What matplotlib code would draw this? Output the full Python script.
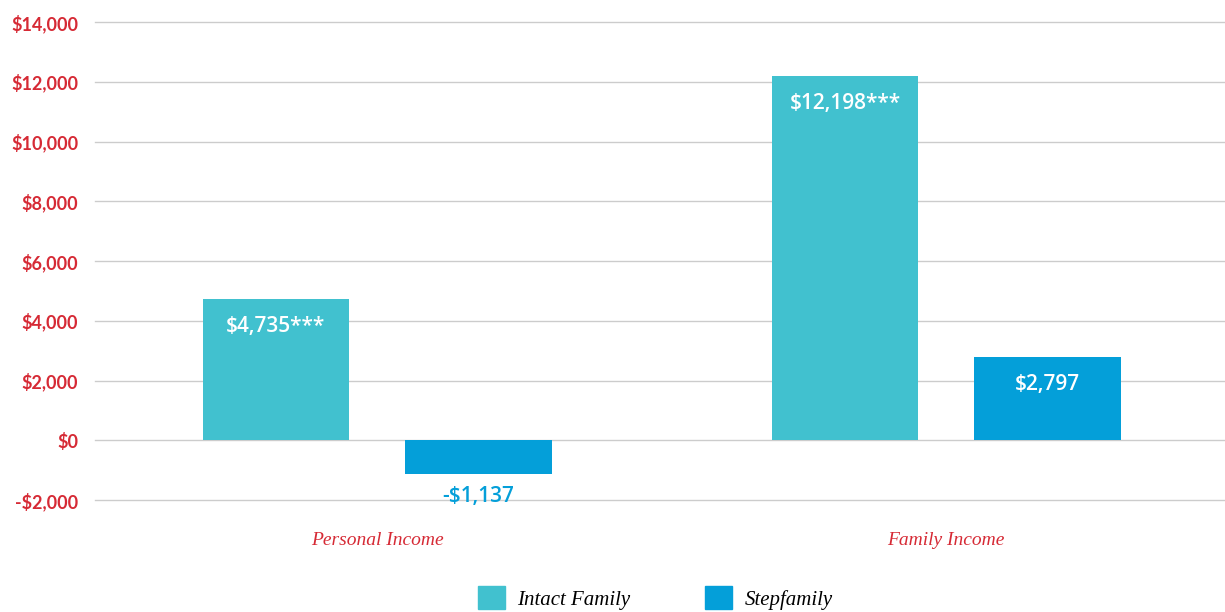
import matplotlib.pyplot as plt
import numpy as np

categories = ['Personal Income', 'Family Income']
series = ['Intact Family', 'Stepfamily']
intact = [4735, 12198]
step = [-1137, 2797]
intact_labels = ['$4,735***', '$12,198***']
step_labels = ['-$1,137', '$2,797']
yticks = [-2000, 0, 2000, 4000, 6000, 8000, 10000, 12000, 14000]

c_intact = '#41c1cf'
c_step = '#049fd9'
red = '#d62a35'

fig = plt.figure(figsize=(12.25, 6.12), dpi=100)
ax = fig.add_axes([95 / 1225, 112 / 612, 1130 / 1225, 478 / 612])

x = np.arange(len(categories))
w = 0.257
off = 0.178
b1 = ax.bar(x - off, intact, w, color=c_intact, zorder=3)
b2 = ax.bar(x + off, step, w, color=c_step, zorder=3)

ax.set_ylim(-2000, 14000)
ax.set_xlim(-0.496, 1.49)
ax.set_yticks(yticks)
ax.set_yticklabels([('-$' if v < 0 else '$') + format(abs(v), ',') for v in yticks])
ax.yaxis.grid(True, color='#cccccc', lw=1, zorder=0)
for gl in ax.get_ygridlines():
    gl.set_clip_on(False)
ax.set_xticks([])
for s in ax.spines.values():
    s.set_visible(False)
ax.tick_params(axis='y', length=0, pad=12, labelcolor=red)
for t in ax.get_yticklabels():
    t.set_fontfamily('Lato')
    t.set_fontweight('bold')
    t.set_fontsize(13)

# value labels
for bar, lab in zip(b1, intact_labels):
    ax.annotate(lab, (bar.get_x() + bar.get_width() / 2, bar.get_height()),
                xytext=(0, -20), textcoords='offset points', ha='center', va='center',
                color='white', fontsize=15, fontfamily='Open Sans', fontweight='semibold', zorder=4)
for bar, lab, v in zip(b2, step_labels, step):
    if v < 0:
        ax.annotate(lab, (bar.get_x() + bar.get_width() / 2, v),
                    xytext=(0, -16), textcoords='offset points', ha='center', va='center',
                    color=c_step, fontsize=15, fontfamily='Open Sans', fontweight='semibold', zorder=4)
    else:
        ax.annotate(lab, (bar.get_x() + bar.get_width() / 2, v),
                    xytext=(0, -20), textcoords='offset points', ha='center', va='center',
                    color='white', fontsize=15, fontfamily='Open Sans', fontweight='semibold', zorder=4)

# category labels
for xi, cat in zip(x, categories):
    ax.annotate(cat, (xi, 0), xycoords=('data', 'axes fraction'), xytext=(0, -29),
                textcoords='offset points', ha='center', va='center', color=red,
                fontsize=14, fontfamily='Liberation Serif', fontstyle='italic')

handles = [plt.Rectangle((0, 0), 1, 1, color=c) for c in (c_intact, c_step)]
fig.legend(handles, series, loc='center', bbox_to_anchor=(0.535, 0.023), ncol=2,
           frameon=False, handlelength=1.3, handleheight=1.3, handletextpad=0.6,
           columnspacing=3.6, prop={'family': 'Liberation Serif', 'style': 'italic', 'size': 15})

fig.savefig('out.png', dpi=100)
